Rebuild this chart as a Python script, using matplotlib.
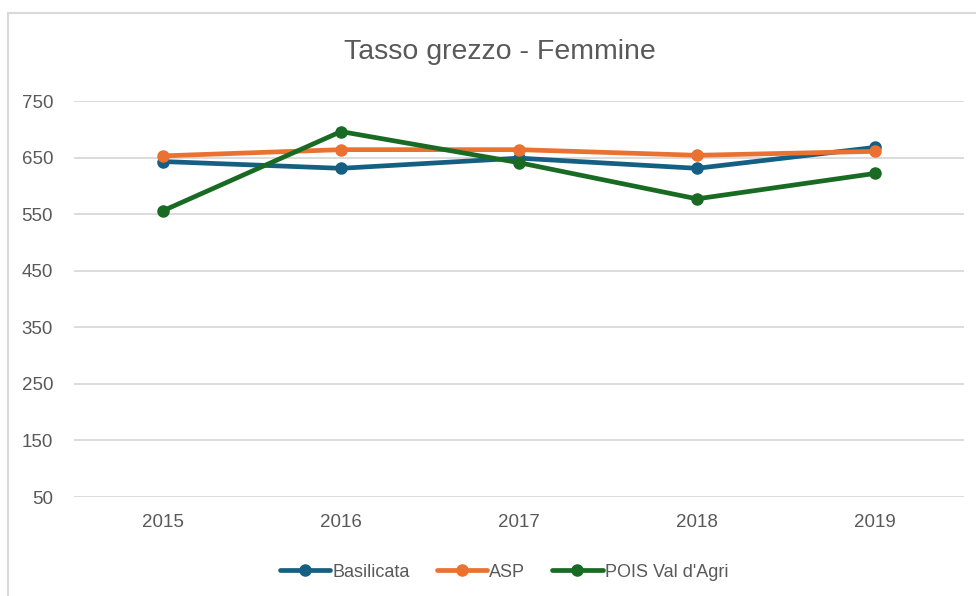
import matplotlib
matplotlib.use("Agg")
import matplotlib.pyplot as plt
from matplotlib.lines import Line2D

years = ["2015", "2016", "2017", "2018", "2019"]
basilicata = [643, 631, 649, 631, 668]
asp = [653, 664, 664, 654, 661]
pois = [556, 696, 641, 577, 622]

series = [
    ("Basilicata", basilicata, "#156082"),
    ("ASP", asp, "#E97132"),
    ("POIS Val d'Agri", pois, "#196B24"),
]

text_color = "#595959"
plt.rcParams["font.family"] = ["Liberation Sans", "DejaVu Sans"]

fig = plt.figure(figsize=(9.76, 5.96), dpi=100)
ax = fig.add_axes([74 / 976, 1 - 497 / 596, 890 / 976, 396 / 596])

x = list(range(len(years)))
for name, vals, color in series:
    ax.plot(x, vals, color=color, lw=3.4, marker="o", ms=8,
            solid_capstyle="round", label=name, zorder=3)

ax.set_xlim(-0.5, len(years) - 0.5)
ax.set_ylim(50, 750)
ax.set_yticks(range(50, 751, 100))
ax.set_xticks(x)
ax.set_xticklabels(years)
ax.grid(axis="y", color="#d9d9d9", lw=1.3)
ax.set_axisbelow(True)
for s in ax.spines.values():
    s.set_visible(False)
ax.tick_params(length=0, labelsize=13.5, colors=text_color)
ax.tick_params(axis="y", pad=15)
ax.tick_params(axis="x", pad=12)

fig.text(0.512, 1 - 52 / 596, "Tasso grezzo - Femmine",
         ha="center", va="center", fontsize=20.5, color=text_color)

# outer chart border (left and top only are visible)
fig.add_artist(Line2D([8 / 976, 8 / 976], [0, 1 - 13 / 596],
                      transform=fig.transFigure, color="#d9d9d9", lw=1.5))
fig.add_artist(Line2D([8 / 976, 1], [1 - 13 / 596, 1 - 13 / 596],
                      transform=fig.transFigure, color="#d9d9d9", lw=1.5))

leg = ax.legend(loc="center", bbox_to_anchor=(0.5 + (504 - 519) / 890, -0.19),
                ncol=3, frameon=False, fontsize=13, handlelength=2.8,
                handletextpad=0.1, columnspacing=1.5, labelcolor=text_color)

fig.savefig("out.png", dpi=100)
